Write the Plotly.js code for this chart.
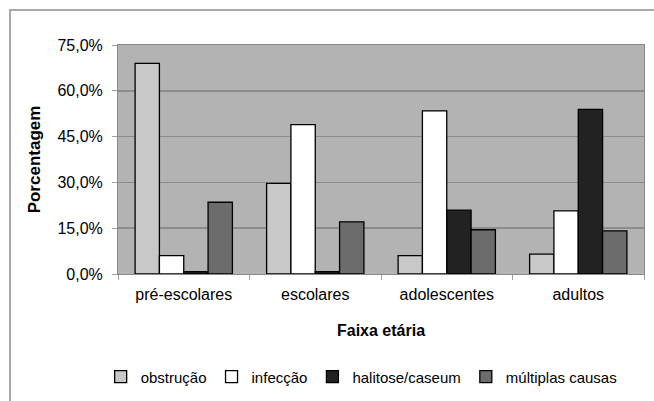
<!DOCTYPE html>
<html>
<head>
<meta charset="utf-8">
<script src="https://cdn.plot.ly/plotly-3.0.1.min.js"></script>
<style>
html,body{margin:0;padding:0;background:#fff;}
#frame{position:absolute;left:9px;top:9px;width:660px;height:400px;border-left:2px solid #a8a8a8;border-top:2px solid #a8a8a8;pointer-events:none;}
#chart{position:absolute;left:0;top:0;width:654px;height:401px;}
</style>
</head>
<body>
<div id="chart"></div>
<div id="frame"></div>
<script>
const categories = ['pré-escolares', 'escolares', 'adolescentes', 'adultos'];
const seriesNames = ['obstrução', 'infecção', 'halitose/caseum', 'múltiplas causas'];
const obstrucao = [69.0, 29.7, 6.0, 6.5];
const infeccao = [6.0, 48.9, 53.4, 20.7];
const halitose = [0.8, 0.8, 20.9, 53.9];
const multiplas = [23.5, 17.1, 14.5, 14.1];
const yTicks = [0, 15, 30, 45, 60, 75];
const yTickLabels = ['0,0%', '15,0%', '30,0%', '45,0%', '60,0%', '75,0%'];

const colors = ['#c8c8c8', '#ffffff', '#222222', '#6c6c6c'];
const values = [obstrucao, infeccao, halitose, multiplas];

const traces = values.map((v, i) => ({
  type: 'bar',
  name: seriesNames[i],
  x: categories,
  y: v,
  marker: {color: colors[i], line: {color: '#000', width: 1.3}},
  hoverinfo: 'none'
}));

const layout = {
  width: 654, height: 401,
  margin: {l: 118, r: 10, t: 45, b: 127},
  paper_bgcolor: '#ffffff',
  plot_bgcolor: '#b3b3b3',
  font: {family: 'Liberation Sans, Arial, sans-serif', size: 16, color: '#000'},
  barmode: 'group',
  bargap: 0.26,
  bargroupgap: 0,
  showlegend: true,
  legend: {orientation: 'h', x: 0.553, xanchor: 'center', xref: 'container',
           y: 0.06, yanchor: 'middle', yref: 'container',
           font: {size: 15}, itemwidth: 30, tracegroupgap: 0,
           entrywidthmode: 'pixels', entrywidth: 0},
  xaxis: {
    type: 'category',
    tickson: 'boundaries',
    ticks: 'outside', ticklen: 5, tickcolor: '#a0a0a0',
    ticklabelstandoff: 6,
    showline: true, linecolor: '#888888', linewidth: 1, mirror: true,
    showgrid: false,
    tickfont: {size: 16},
    title: {text: '<b>Faixa etária</b>', font: {size: 16}, standoff: 22}
  },
  yaxis: {
    range: [0, 75],
    tickvals: yTicks,
    ticktext: yTickLabels,
    ticks: 'outside', ticklen: 5, tickcolor: '#a0a0a0',
    ticklabelstandoff: 6,
    showline: true, linecolor: '#888888', linewidth: 1, mirror: true,
    gridcolor: '#8c8c8c', gridwidth: 1.5,
    zeroline: false,
    tickfont: {size: 16},
    title: {text: '<b>Porcentagem</b>', font: {size: 17}, standoff: 12}
  }
};

Plotly.newPlot('chart', traces, layout, {staticPlot: true});
</script>
</body>
</html>
